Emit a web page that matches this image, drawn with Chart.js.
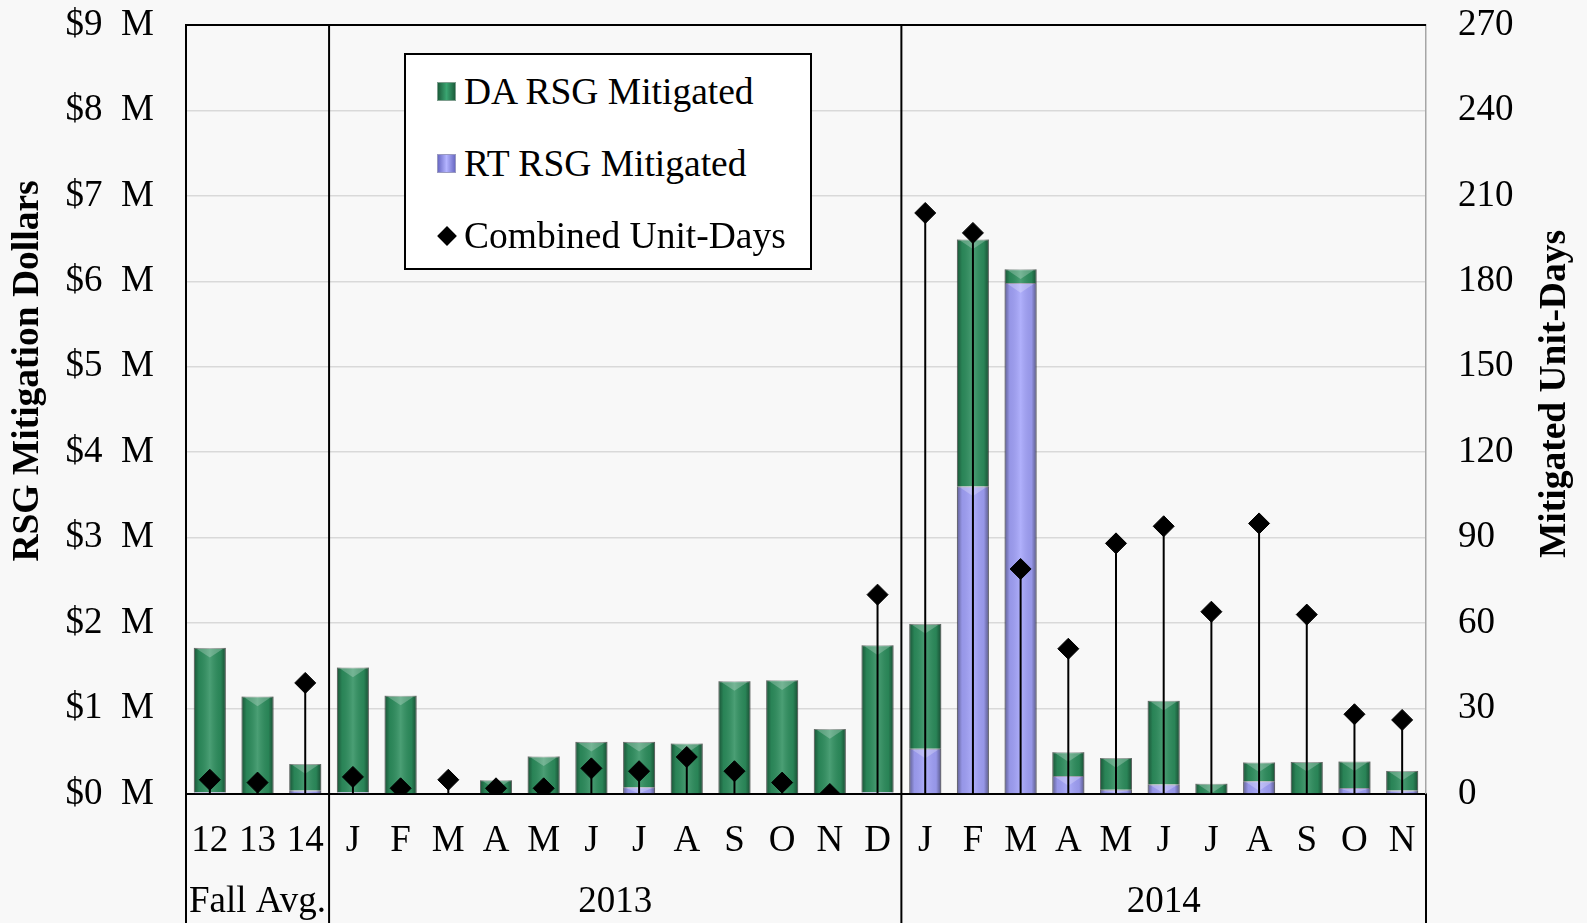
<!DOCTYPE html>
<html>
<head>
<meta charset="utf-8">
<script src="https://cdn.jsdelivr.net/npm/chart.js@4.4.1/dist/chart.umd.min.js"></script>
<style>
	html, body { margin: 0; padding: 0; background: #f8f8f8; }
	#wrap { position: relative; width: 1587px; height: 923px; }
	#legend {
		position: absolute; left: 404px; top: 53px; width: 408px; height: 217px;
		box-sizing: border-box; border: 2px solid #000; background: #fff;
		font-family: "Liberation Serif", "Times New Roman", serif; font-size: 37.5px; color: #000;
	}
	.row { position: absolute; left: 0; height: 72px; line-height: 72px; white-space: nowrap; }
	.row span { position: absolute; left: 58px; }
	.sw { position: absolute; left: 31px; top: 26px; width: 19px; height: 19px; box-sizing: border-box; }
	.da { background: linear-gradient(90deg, #1c5e3c, #3aa571 50%, #1c5e3c); border: 1px solid #7f9f8f; }
	.rt { background: linear-gradient(90deg, #6a6ac4, #b4b4ff 50%, #6a6ac4); border: 1px solid #9a9ac0; }
	.dm { left: 34px; top: 29px; width: 14px; height: 14px; background: #000; transform: rotate(45deg); }
</style>
</head>
<body>
<div id="wrap">
	<canvas id="chart" width="1587" height="923"></canvas>
	<div id="legend">
		<div class="row" style="top:1px"><div class="sw da"></div><span>DA RSG Mitigated</span></div>
		<div class="row" style="top:73px"><div class="sw rt"></div><span>RT RSG Mitigated</span></div>
		<div class="row" style="top:145px"><div class="sw dm"></div><span>Combined Unit-Days</span></div>
	</div>
</div>
<script>
const FONT = '"Liberation Serif", "Times New Roman", serif';

// categories along the x axis and the group each block belongs to
const categories = ['12', '13', '14', 'J', 'F', 'M', 'A', 'M', 'J', 'J', 'A', 'S', 'O', 'N', 'D', 'J', 'F', 'M', 'A', 'M', 'J', 'J', 'A', 'S', 'O', 'N'];
const groupLabels = ['Fall Avg.', '2013', '2014'];
const groupSizes = [3, 12, 11];

// mitigation dollars in $ millions
const rtMitigated = [0.02, 0.01, 0.04, 0.02, 0.01, 0.01, 0.0, 0.0, 0.01, 0.08, 0.0, 0.0, 0.0, 0.0, 0.02,
	0.53, 3.60, 5.98, 0.21, 0.05, 0.11, 0.0, 0.15, 0.01, 0.07, 0.04];
const daMitigated = [1.69, 1.13, 0.31, 1.46, 1.14, 0.0, 0.16, 0.44, 0.60, 0.53, 0.59, 1.32, 1.33, 0.76, 1.72,
	1.46, 2.89, 0.16, 0.28, 0.37, 0.98, 0.12, 0.22, 0.365, 0.31, 0.23];

// combined mitigated unit-days (right axis)
const unitDays = [5, 4, 39, 6, 2, 5, 2, 2, 9, 8, 13, 8, 4, 0, 70,
	204, 197, 79, 51, 88, 94, 64, 95, 63, 28, 26];

// tick labels and axis titles
const dollarLabels = ['$0  M', '$1  M', '$2  M', '$3  M', '$4  M', '$5  M', '$6  M', '$7  M', '$8  M', '$9  M'];
const unitDayLabels = ['0', '30', '60', '90', '120', '150', '180', '210', '240', '270'];
const leftTitle = 'RSG Mitigation Dollars';
const rightTitle = 'Mitigated Unit-Days';

//adds bevel shading on top of each bar segment
const barShade = {
	id: 'barShade',
	afterDatasetDraw(chart, args) {
		if (args.meta.type !== 'bar') return;
		const ctx = chart.ctx;
		ctx.save();
		args.meta.data.forEach(bar => {
			const h = Math.abs(bar.base - bar.y);
			if (h < 1) return;
			const left = bar.x - bar.width / 2;
			const top = Math.min(bar.y, bar.base);
			const g = ctx.createLinearGradient(left, 0, left + bar.width, 0);
			g.addColorStop(0, 'rgba(0,0,0,0.42)');
			g.addColorStop(0.16, 'rgba(0,0,0,0.08)');
			g.addColorStop(0.5, 'rgba(255,255,255,0.14)');
			g.addColorStop(0.84, 'rgba(0,0,0,0.08)');
			g.addColorStop(1, 'rgba(0,0,0,0.46)');
			ctx.fillStyle = g;
			ctx.fillRect(left, top, bar.width, h);
			//light chevron at the top of the segment
			const ch = Math.min(h, bar.width * 0.3);
			ctx.beginPath();
			ctx.moveTo(left + 3, top + 1);
			ctx.lineTo(left + bar.width - 3, top + 1);
			ctx.lineTo(bar.x, top + ch);
			ctx.closePath();
			ctx.fillStyle = 'rgba(255,255,255,0.24)';
			ctx.fill();
		});
		ctx.restore();
	}
};

//vertical drop lines from zero to every unit-day marker
const dropLines = {
	id: 'dropLines',
	beforeDatasetDraw(chart, args) {
		if (args.meta.type !== 'line') return;
		const ctx = chart.ctx;
		const zero = chart.scales.y1.getPixelForValue(0);
		ctx.save();
		ctx.strokeStyle = '#000';
		ctx.lineWidth = 2;
		args.meta.data.forEach(pt => {
			ctx.beginPath();
			ctx.moveTo(pt.x, zero);
			ctx.lineTo(pt.x, pt.y);
			ctx.stroke();
		});
		ctx.restore();
	}
};

//frame, group separators, group labels and the two axis titles
const groupFrame = {
	id: 'groupFrame',
	afterDraw(chart) {
		const ctx = chart.ctx;
		const area = chart.chartArea;
		const xs = chart.scales.x;
		const bottom = chart.height;
		ctx.save();
		ctx.strokeStyle = '#000';
		ctx.lineWidth = 2;

		ctx.beginPath();
		ctx.moveTo(area.left, area.top);
		ctx.lineTo(area.right, area.top);
		ctx.stroke();

		//boundaries between groups
		const edges = [area.left];
		let idx = 0;
		groupSizes.forEach((n, i) => {
			idx += n;
			if (i < groupSizes.length - 1) {
				edges.push((xs.getPixelForValue(idx - 1) + xs.getPixelForValue(idx)) / 2);
			}
		});
		edges.push(area.right);

		edges.forEach((x, i) => {
			const isOuter = i === 0 || i === edges.length - 1;
			ctx.beginPath();
			ctx.moveTo(x, isOuter ? area.bottom : area.top);
			ctx.lineTo(x, bottom);
			ctx.stroke();
		});

		ctx.fillStyle = '#000';
		ctx.font = '37px ' + FONT;
		ctx.textAlign = 'center';
		ctx.textBaseline = 'middle';
		groupLabels.forEach((label, i) => {
			ctx.fillText(label, (edges[i] + edges[i + 1]) / 2, 902);
		});

		//both titles read bottom to top
		ctx.font = 'bold 37.5px ' + FONT;
		[[leftTitle, 28, 371], [rightTitle, 1555, 394]].forEach(([text, x, y]) => {
			ctx.save();
			ctx.translate(x, y);
			ctx.rotate(-Math.PI / 2);
			ctx.fillText(text, 0, 0);
			ctx.restore();
		});
		ctx.restore();
	}
};

//drop the half-label overflow so the plot area starts where the layout says
function fixWidth(w) {
	return scale => {
		scale.width = w;
		scale.paddingTop = 0;
		scale.paddingBottom = 0;
	};
}

const ctx = document.getElementById('chart').getContext('2d');

new Chart(ctx, {
	type: 'bar',
	data: {
		labels: categories,
		datasets: [
			{
				type: 'line',
				label: 'Combined Unit-Days',
				data: unitDays,
				yAxisID: 'y1',
				showLine: false,
				pointStyle: 'rectRot',
				pointRadius: 10.5,
				pointBackgroundColor: '#000',
				pointBorderColor: '#000',
				pointBorderWidth: 1,
				order: 0
			},
			{
				label: 'RT RSG Mitigated',
				data: rtMitigated,
				yAxisID: 'y',
				backgroundColor: '#a3a3fb',
				borderColor: 'rgba(110,110,140,0.6)',
				borderWidth: 1,
				barPercentage: 0.67,
				categoryPercentage: 1,
				order: 1
			},
			{
				label: 'DA RSG Mitigated',
				data: daMitigated,
				yAxisID: 'y',
				backgroundColor: '#2d8f5e',
				borderColor: 'rgba(100,120,110,0.6)',
				borderWidth: 1,
				barPercentage: 0.67,
				categoryPercentage: 1,
				order: 2
			}
		]
	},
	options: {
		responsive: false,
		animation: false,
		layout: { padding: { top: 25, left: 0, right: 0, bottom: 0 } },
		plugins: {
			legend: { display: false },
			tooltip: { enabled: false }
		},
		scales: {
			x: {
				stacked: true,
				grid: { display: false },
				border: { color: '#000', width: 2 },
				ticks: {
					color: '#000',
					font: { family: FONT, size: 37 },
					padding: 17,
					maxRotation: 0,
					autoSkip: false
				},
				afterFit(scale) { scale.height = 129; }
			},
			y: {
				stacked: true,
				position: 'left',
				min: 0,
				max: 9,
				grid: { color: '#d9d9d9', lineWidth: 1.5, drawTicks: false },
				border: { color: '#000', width: 2 },
				ticks: {
					stepSize: 1,
					color: '#000',
					padding: 32,
					font: { family: FONT, size: 37 },
					callback: (v, i) => dollarLabels[i]
				},
				afterFit: fixWidth(186)
			},
			y1: {
				position: 'right',
				min: 0,
				max: 270,
				grid: { display: false, drawTicks: false },
				border: { color: '#a6a6a6', width: 1.5 },
				ticks: {
					stepSize: 30,
					color: '#000',
					padding: 32,
					font: { family: FONT, size: 37 },
					callback: (v, i) => unitDayLabels[i]
				},
				afterFit: fixWidth(161)
			}
		}
	},
	plugins: [barShade, dropLines, groupFrame]
});
</script>
</body>
</html>
